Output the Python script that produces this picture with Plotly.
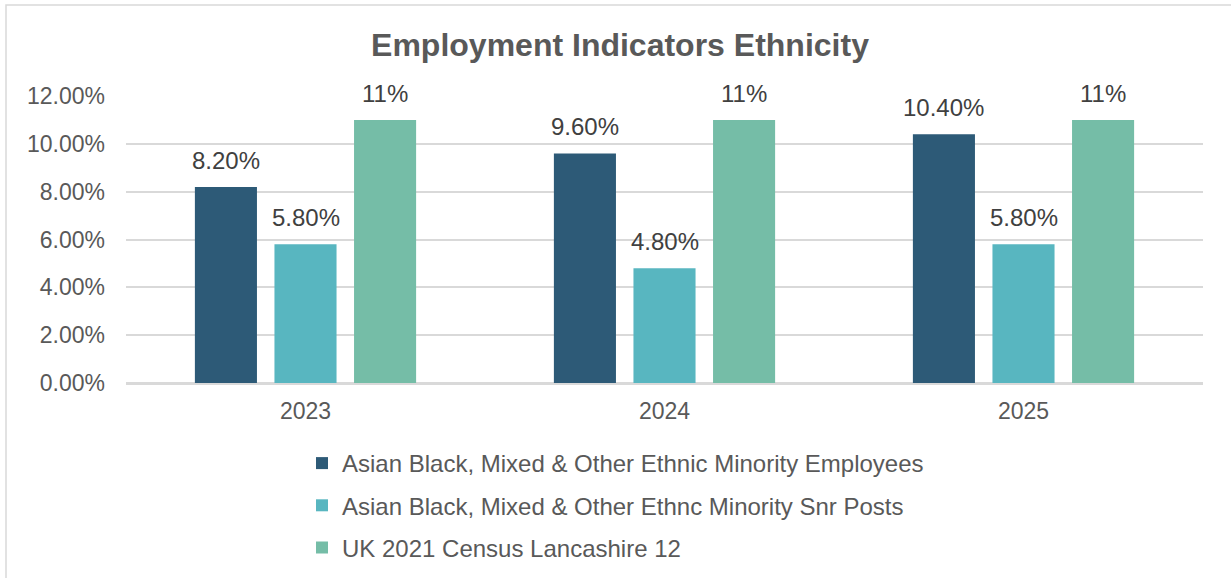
import plotly.graph_objects as go

# Chart data
years = ["2023", "2024", "2025"]
series_names = [
    "Asian Black, Mixed & Other Ethnic Minority Employees",
    "Asian Black, Mixed & Other Ethnc Minority Snr Posts",
    "UK 2021 Census Lancashire 12",
]
employees = [0.082, 0.096, 0.104]
snr_posts = [0.058, 0.048, 0.058]
census = [0.11, 0.11, 0.11]
label_formats = [".2%", ".2%", ".0%"]
colors = ["#2D5A77", "#58B6C0", "#75BDA7"]

FONT = "Liberation Sans, Arial, sans-serif"
TEXT = "#595959"
W, H = 1231, 578
L, R, T, B = 126, 28, 96, 195
BARGAP = 0.335
GROUPGAP = 0.22

fig = go.Figure()
values = [employees, snr_posts, census]
for i, (name, vals, col) in enumerate(zip(series_names, values, colors)):
    fig.add_trace(go.Bar(
        x=years, y=vals, name=name, marker_color=col,
        marker_line_width=0, legendgroup=f"g{i}",
    ))

# value labels above each bar, offset horizontally to each bar's slot
plot_w = W - L - R
plot_h = H - T - B
slot = plot_w / len(years) * (1 - BARGAP) / len(values)
for i, (vals, fmt) in enumerate(zip(values, label_formats)):
    for j, v in enumerate(vals):
        fig.add_annotation(
            x=j, y=v, xref="x", yref="y", text=format(v, fmt),
            showarrow=False, yanchor="bottom", yshift=11,
            xshift=(i - 1) * slot,
            font=dict(family=FONT, size=24, color="#404040"),
        )

# outer chart border
fig.add_shape(
    type="rect", xref="paper", yref="paper",
    x0=(6 - L) / plot_w, x1=(W + 5 - L) / plot_w,
    y0=-(B + 5) / plot_h, y1=1 + (T - 5) / plot_h,
    line=dict(color="#D9D9D9", width=1.5), fillcolor="rgba(0,0,0,0)",
    layer="below",
)

fig.update_layout(
    width=W, height=H,
    margin=dict(l=L, r=R, t=T, b=B, autoexpand=False),
    paper_bgcolor="white", plot_bgcolor="white",
    barmode="group", bargap=BARGAP, bargroupgap=GROUPGAP,
    title=dict(
        text="<b>Employment Indicators Ethnicity</b>",
        x=(620 - L) / plot_w, xref="paper", xanchor="center",
        y=1 - 45 / H, yanchor="middle",
        font=dict(family=FONT, size=32, color=TEXT),
    ),
    font=dict(family=FONT, color=TEXT),
    legend=dict(
        orientation="v", x=(302 - L) / plot_w, xanchor="left",
        y=-(441 - (H - B)) / plot_h, yanchor="top",
        font=dict(family=FONT, size=24, color=TEXT),
        tracegroupgap=8, itemwidth=30,
        bgcolor="rgba(0,0,0,0)",
    ),
    showlegend=True,
)
fig.update_xaxes(
    type="category", range=[-0.5, len(years) - 0.5],
    showgrid=False, showline=True, linecolor="#D9D9D9", linewidth=1.5,
    tickfont=dict(family=FONT, size=23, color=TEXT),
    ticks="", ticklabelstandoff=7,
)
fig.update_yaxes(
    range=[0, 0.12], dtick=0.02, tickformat=".2%",
    showgrid=True, gridcolor="#D9D9D9", gridwidth=1.5,
    zeroline=True, zerolinecolor="#D9D9D9", zerolinewidth=1.5,
    tickfont=dict(family=FONT, size=23, color=TEXT),
    ticks="", ticklabelstandoff=20,
)

fig.write_html("out.html")
